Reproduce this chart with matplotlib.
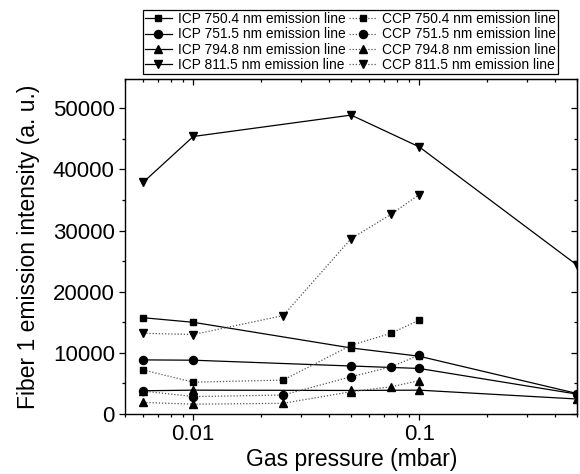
import matplotlib
matplotlib.use("Agg")
import matplotlib.pyplot as plt
from matplotlib.ticker import LogLocator, NullFormatter, FuncFormatter, MultipleLocator

plt.rcParams['font.family'] = ['Liberation Sans', 'DejaVu Sans']

# ICP data
icp_x = [0.006, 0.01, 0.05, 0.1, 0.5]
icp_7504 = [15750, 15000, 10800, 9450, 3350]
icp_7515 = [8850, 8800, 7850, 7450, 3250]
icp_7948 = [3800, 3900, 3850, 3900, 2450]
icp_8115 = [37900, 45400, 48900, 43700, 24350]

# CCP data
ccp_x = [0.006, 0.01, 0.025, 0.05, 0.075, 0.1]
ccp_7504 = [7200, 5200, 5550, 11250, 13200, 15350]
ccp_7515 = [3750, 2850, 3100, 6100, 7700, 9650]
ccp_7948 = [1900, 1600, 1750, 3650, 4450, 5450]
ccp_8115 = [13200, 13000, 16100, 28700, 32650, 35900]

labels_icp = ["ICP 750.4 nm emission line", "ICP 751.5 nm emission line",
              "ICP 794.8 nm emission line", "ICP 811.5 nm emission line"]
labels_ccp = ["CCP 750.4 nm emission line", "CCP 751.5 nm emission line",
              "CCP 794.8 nm emission line", "CCP 811.5 nm emission line"]

markers = ['s', 'o', '^', 'v']
msizes = [5.0, 5.8, 6.2, 6.2]

fig = plt.figure(figsize=(5.8, 4.74), dpi=100)
ax = fig.add_axes([0.216, 0.1266, 0.779, 0.7067])

handles = []
for ys, m, ms, lab in zip([icp_7504, icp_7515, icp_7948, icp_8115], markers, msizes, labels_icp):
    h, = ax.plot(icp_x, ys, color='black', lw=0.9, marker=m, ms=ms,
                 mfc='black', mec='black', label=lab, clip_on=True, zorder=3)
    handles.append(h)
for ys, m, ms, lab in zip([ccp_7504, ccp_7515, ccp_7948, ccp_8115], markers, msizes, labels_ccp):
    h, = ax.plot(ccp_x, ys, color='#555555', lw=0.9, ls=(0, (1, 1.5)), marker=m, ms=ms,
                 mfc='black', mec='black', label=lab, clip_on=True, zorder=3)
    handles.append(h)

ax.set_xscale('log')
ax.set_xlim(0.005, 0.5)
ax.set_ylim(0, 54800)

ax.xaxis.set_major_locator(LogLocator(base=10, numticks=10))
ax.xaxis.set_minor_locator(LogLocator(base=10, subs=range(2, 10), numticks=20))
ax.xaxis.set_major_formatter(FuncFormatter(lambda v, p: ('%g' % v)))
ax.xaxis.set_minor_formatter(NullFormatter())
ax.yaxis.set_major_locator(MultipleLocator(10000))
ax.yaxis.set_minor_locator(MultipleLocator(5000))

for sp in ax.spines.values():
    sp.set_linewidth(1.0)

ax.tick_params(axis='both', which='major', direction='out', length=4.5, width=0.9,
               labelsize=16, pad=3)
ax.tick_params(axis='both', which='minor', direction='out', length=2.5, width=0.9)

# mirrored ticks pointing inward on top and right
secx = ax.secondary_xaxis('top')
secx.xaxis.set_major_locator(LogLocator(base=10, numticks=10))
secx.xaxis.set_minor_locator(LogLocator(base=10, subs=range(2, 10), numticks=20))
secx.tick_params(axis='x', which='major', direction='in', length=4, width=0.9, labeltop=False)
secx.tick_params(axis='x', which='minor', direction='in', length=2.5, width=0.9)
secx.xaxis.set_minor_formatter(NullFormatter())

secy = ax.secondary_yaxis('right')
secy.yaxis.set_major_locator(MultipleLocator(10000))
secy.yaxis.set_minor_locator(MultipleLocator(5000))
secy.tick_params(axis='y', which='major', direction='in', length=4, width=0.9, labelright=False)
secy.tick_params(axis='y', which='minor', direction='in', length=2.5, width=0.9)

ax.set_xlabel("Gas pressure (mbar)", fontsize=16.5, labelpad=2)
ax.set_ylabel("Fiber 1 emission intensity (a. u.)", fontsize=16.5, labelpad=9)

leg = ax.legend(handles=handles, ncol=2, loc='upper left',
                bbox_to_anchor=(0.246, 0.979), bbox_transform=fig.transFigure,
                fontsize=9.9, frameon=True, fancybox=False, framealpha=1,
                edgecolor='black', handlelength=2.0, handletextpad=0.4,
                columnspacing=0.3, labelspacing=0.1, borderpad=0.15,
                borderaxespad=0)
leg.get_frame().set_linewidth(0.9)

fig.savefig("out.png", dpi=100)
